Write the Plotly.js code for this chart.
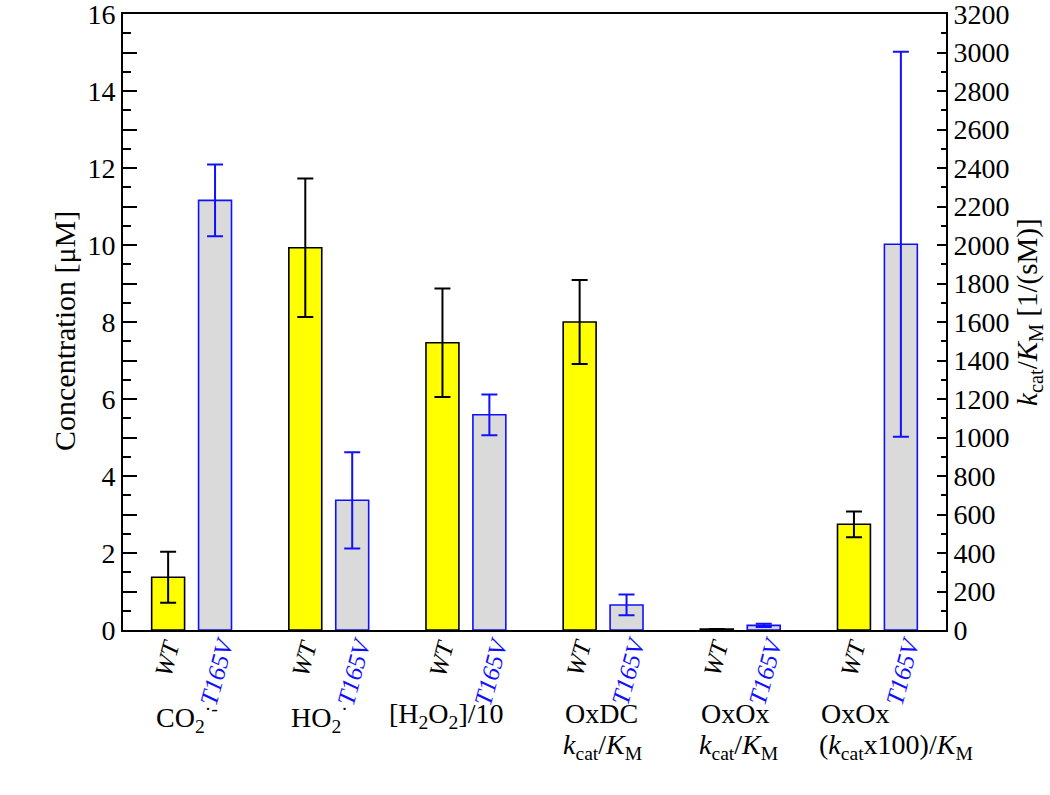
<!DOCTYPE html>
<html>
<head>
<meta charset="utf-8">
<script src="https://cdn.plot.ly/plotly-3.0.1.min.js"></script>
<style>body{margin:0;background:#fff;}#chart{width:1050px;height:795px;}</style>
</head>
<body>
<div id="chart"></div>
<script>
// Category keys (x positions) and their displayed labels
const categories = ['CO2', 'HO2', 'H2O2', 'OxDC', 'OxOx', 'OxOx100'];
const groupLine1 = [
  'CO<sub>2</sub><sup>·-</sup>',
  'HO<sub>2</sub><sup>·</sup>',
  '[H<sub>2</sub>O<sub>2</sub>]/10',
  'OxDC',
  'OxOx',
  'OxOx'
];
const groupLine2 = [
  '', '', '',
  '<i>k</i><sub>cat</sub>/<i>K</i><sub>M</sub>',
  '<i>k</i><sub>cat</sub>/<i>K</i><sub>M</sub>',
  '(<i>k</i><sub>cat</sub>x100)/<i>K</i><sub>M</sub>'
];
const variantLabels = ['WT', 'T165V'];
const leftTitle = 'Concentration [μM]';
const rightTitle = '<i>k</i><sub>cat</sub>/<i>K</i><sub>M</sub> [1/(sM)]';

// Concentrations [µM] (left axis)
const concCats = ['CO2', 'HO2', 'H2O2'];
const wtConc = [1.37, 9.93, 7.46];
const wtConcErr = [0.66, 1.80, 1.41];
const mutConc = [11.16, 3.37, 5.59];
const mutConcErr = [0.93, 1.25, 0.53];

// kcat/KM [1/(sM)] (right axis)
const kcatCats = ['OxDC', 'OxOx', 'OxOx100'];
const wtKcat = [1600, 5, 549];
const wtKcatErr = [218, 0, 67];
const mutKcat = [130, 24, 2004];
const mutKcatErr = [54, 8, 1000];

const SERIF = 'Liberation Serif, Times New Roman, serif';
const BLUE = '#1010ff';
const YELLOW = '#ffff00';
const GREY = '#dadada';
const W = 0.24, OFF_WT = -0.291, OFF_MUT = 0.051;
// horizontal placement of group labels (left edge relative to group centre, px)
const labelShift = [-38, -40, -79, -40, -41, -58];

function barTrace(x, y, err, fill, line, yaxis) {
  return {
    type: 'bar', x: x, y: y, yaxis: yaxis,
    width: W, offset: line === 'black' ? OFF_WT : OFF_MUT,
    marker: {color: fill, line: {color: line, width: 1.6}},
    error_y: {type: 'data', array: err, visible: true, color: line, thickness: 2, width: 8},
    hoverinfo: 'x+y', showlegend: false
  };
}

const data = [
  barTrace(concCats, wtConc, wtConcErr, YELLOW, 'black', 'y'),
  barTrace(concCats, mutConc, mutConcErr, GREY, BLUE, 'y'),
  barTrace(kcatCats, wtKcat, wtKcatErr, YELLOW, 'black', 'y2'),
  barTrace(kcatCats, mutKcat, mutKcatErr, GREY, BLUE, 'y2')
];

const annotations = [];
categories.forEach((c, i) => {
  annotations.push({
    x: c, xref: 'x', y: 0, yref: 'paper', yanchor: 'top', yshift: -66,
    xanchor: 'left', xshift: labelShift[i], align: 'left', showarrow: false,
    text: groupLine1[i], font: {family: SERIF, size: 28, color: 'black'}
  });
  if (groupLine2[i]) {
    annotations.push({
      x: c, xref: 'x', y: 0, yref: 'paper', yanchor: 'top', yshift: -97,
      xanchor: 'left', xshift: labelShift[i] - 2, align: 'left', showarrow: false,
      text: groupLine2[i], font: {family: SERIF, size: 28, color: 'black'}
    });
  }
  annotations.push({
    x: c, xref: 'x', y: 0, yref: 'paper', yanchor: 'top', yshift: -4, xshift: -24,
    textangle: -75, showarrow: false,
    text: '<i>' + variantLabels[0] + '</i>', font: {family: SERIF, size: 25, color: 'black'}
  });
  annotations.push({
    x: c, xref: 'x', y: 0, yref: 'paper', yanchor: 'top', yshift: -2, xshift: 25,
    textangle: -75, showarrow: false,
    text: '<i>' + variantLabels[1] + '</i>', font: {family: SERIF, size: 25, color: BLUE}
  });
});
// axis titles
annotations.push({
  x: -0.072, xref: 'paper', y: 0.485, yref: 'paper', xanchor: 'center', yanchor: 'middle',
  textangle: -90, showarrow: false, text: leftTitle,
  font: {family: SERIF, size: 30, color: 'black'}
});
annotations.push({
  x: 1.101, xref: 'paper', y: 0.515, yref: 'paper', xanchor: 'center', yanchor: 'middle',
  textangle: -90, showarrow: false, text: rightTitle,
  font: {family: SERIF, size: 29, color: 'black'}
});

const leftVals = [], leftText = [];
for (let v = 0; v <= 16; v++) { leftVals.push(v); leftText.push(v % 2 === 0 ? String(v) : ''); }

const layout = {
  width: 1050, height: 795,
  margin: {l: 123, r: 104, t: 14, b: 165},
  paper_bgcolor: '#fff', plot_bgcolor: '#fff',
  barmode: 'overlay',
  font: {family: SERIF, size: 28, color: 'black'},
  xaxis: {
    type: 'category', categoryorder: 'array', categoryarray: categories,
    range: [-0.5, 5.5], showticklabels: false, ticks: '',
    showline: true, linecolor: 'black', linewidth: 2, mirror: true,
    showgrid: false, zeroline: false, fixedrange: true
  },
  yaxis: {
    range: [0, 16], tickmode: 'array', tickvals: leftVals, ticktext: leftText,
    ticks: 'inside', ticklen: 14, tickwidth: 2, tickcolor: 'black',
    minor: {dtick: 0.5, ticks: 'inside', ticklen: 8, tickwidth: 2, tickcolor: 'black'},
    showline: true, linecolor: 'black', linewidth: 2,
    showgrid: false, zeroline: false, ticklabeloverflow: 'allow',
    tickfont: {family: SERIF, size: 28}
  },
  yaxis2: {
    overlaying: 'y', side: 'right', range: [0, 3200], dtick: 200,
    ticks: 'inside', ticklen: 9, tickwidth: 2, tickcolor: 'black',
    minor: {dtick: 100, ticks: 'inside', ticklen: 5, tickwidth: 2, tickcolor: 'black'},
    showline: true, linecolor: 'black', linewidth: 2,
    showgrid: false, zeroline: false, ticklabeloverflow: 'allow',
    tickfont: {family: SERIF, size: 28}
  },
  annotations: annotations
};

Plotly.newPlot('chart', data, layout, {staticPlot: true, displayModeBar: false});
</script>
</body>
</html>
